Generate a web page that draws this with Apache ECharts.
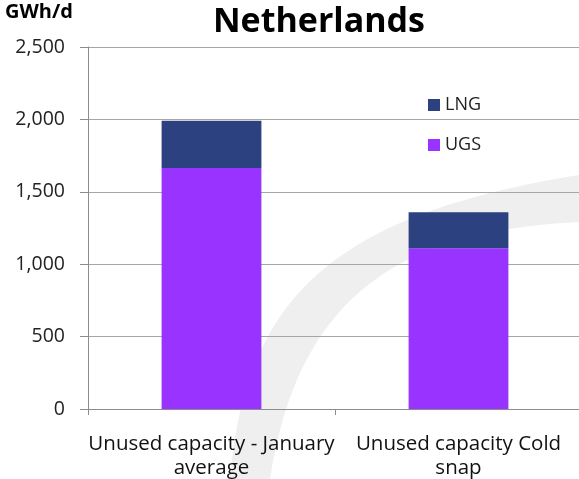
<!DOCTYPE html>
<html>
<head>
<meta charset="utf-8">
<script src="https://cdn.jsdelivr.net/npm/echarts@6/dist/echarts.min.js"></script>
<style>
  html, body { margin: 0; padding: 0; background: #ffffff; }
  #chart { width: 579px; height: 479px; }
</style>
</head>
<body>
<div id="chart"></div>
<script>
// Unused entry capacity by source, GWh/d
const categories = ['Unused capacity - January\naverage', 'Unused capacity Cold\nsnap'];
const ugsValues = [1665, 1110];
const lngValues = [325, 248];
const yTicks = { min: 0, max: 2500, interval: 500 };

const FONT = '"Open Sans", Lato, sans-serif';
const AXIS_GRAY = '#8c8c8c';

// Sample a cubic bezier into points (for the decorative background swoosh)
function bezier(p0, p1, p2, p3, n) {
  const pts = [];
  for (let i = 0; i <= n; i++) {
    const t = i / n, u = 1 - t;
    pts.push([
      u * u * u * p0[0] + 3 * u * u * t * p1[0] + 3 * u * t * t * p2[0] + t * t * t * p3[0],
      u * u * u * p0[1] + 3 * u * u * t * p1[1] + 3 * u * t * t * p2[1] + t * t * t * p3[1]
    ]);
  }
  return pts;
}
const swooshPoints = bezier([230, 479], [245, 300], [330, 215], [579, 175], 40)
  .concat(bezier([579, 222], [420, 230], [300, 280], [270, 479], 40));

const chart = echarts.init(document.getElementById('chart'), null, { renderer: 'canvas' });

chart.setOption({
  backgroundColor: '#ffffff',
  animation: false,
  title: [
    {
      text: 'Netherlands',
      left: 319, top: 5, textAlign: 'center', padding: 0,
      textStyle: { fontFamily: FONT, fontWeight: 'bold', fontSize: 34, color: '#000000' }
    },
    {
      text: 'GWh/d',
      left: 5, top: 2, padding: 0,
      textStyle: { fontFamily: FONT, fontWeight: 'bold', fontSize: 20, color: '#000000' }
    }
  ],
  graphic: [
    {
      type: 'polygon',
      z: -10,
      silent: true,
      shape: { points: swooshPoints },
      style: { fill: '#efefef' }
    }
  ],
  legend: {
    orient: 'vertical',
    left: 428, top: 95, padding: 0,
    itemWidth: 12, itemHeight: 12,
    itemGap: 20,
    icon: 'rect',
    data: ['LNG', 'UGS'],
    textStyle: { fontFamily: FONT, fontSize: 18, color: '#222222', lineHeight: 20 }
  },
  // plot area runs slightly past the right edge of the canvas
  grid: { left: 88, width: 494, top: 47, bottom: 70, containLabel: false, outerBoundsMode: 'none' },
  xAxis: {
    type: 'category',
    data: categories,
    axisLine: { lineStyle: { color: AXIS_GRAY, width: 1 } },
    axisTick: { show: true, alignWithLabel: false, length: 6, lineStyle: { color: AXIS_GRAY } },
    axisLabel: {
      fontFamily: FONT, fontSize: 20.5, color: '#111111',
      lineHeight: 24, margin: 23, interval: 0
    }
  },
  yAxis: {
    type: 'value',
    min: yTicks.min, max: yTicks.max, interval: yTicks.interval,
    axisLine: { show: true, lineStyle: { color: AXIS_GRAY, width: 1 } },
    axisTick: { show: true, length: 8, lineStyle: { color: AXIS_GRAY } },
    splitLine: { show: true, lineStyle: { color: '#a6a6a6', width: 1 } },
    axisLabel: {
      fontFamily: FONT, fontSize: 19.5, color: '#222222', margin: 23,
      formatter: v => v.toLocaleString('en-US')
    }
  },
  series: [
    {
      name: 'UGS', type: 'bar', stack: 'cap',
      barWidth: '40.4%',
      data: ugsValues,
      itemStyle: { color: '#9933FF' }
    },
    {
      name: 'LNG', type: 'bar', stack: 'cap',
      barWidth: '40.4%',
      data: lngValues,
      itemStyle: { color: '#2C4180' }
    }
  ]
});
</script>
</body>
</html>
